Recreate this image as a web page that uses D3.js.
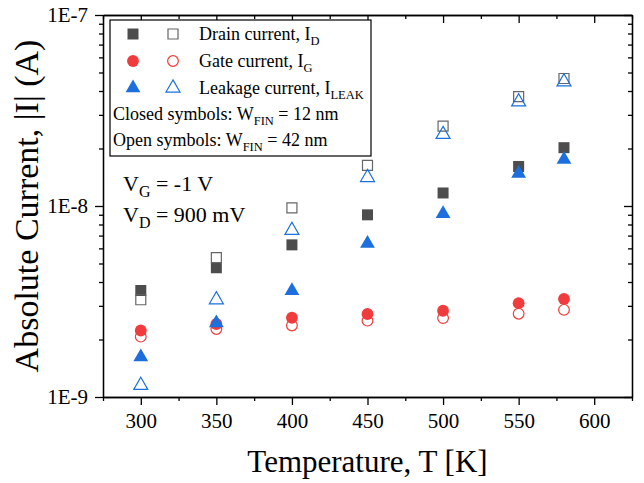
<!doctype html>
<html lang="en">
<head>
    <meta charset="UTF-8">
    <title>Current vs temperature</title>
    <style>
        body { margin: 0; background: #fff; }
        text { font-family: "Liberation Serif", "Times New Roman", serif; fill: #000; }
    </style>
</head>
<body>
    <svg width="644" height="483"></svg>
    <script src="https://cdn.jsdelivr.net/npm/d3@7"></script>
    <script>
        // temperatures (K)
        const temps = [300, 350, 400, 450, 500, 550, 580];
        // closed symbols: W_FIN = 12 nm, open symbols: W_FIN = 42 nm
        const drain12 = [3.61e-9, 4.75e-9, 6.26e-9, 8.99e-9, 1.17e-8, 1.61e-8, 2.02e-8];
        const drain42 = [3.23e-9, 5.37e-9, 9.78e-9, 1.63e-8, 2.62e-8, 3.74e-8, 4.65e-8];
        const gate12 = [2.23e-9, 2.41e-9, 2.60e-9, 2.72e-9, 2.83e-9, 3.10e-9, 3.26e-9];
        const gate42 = [2.07e-9, 2.27e-9, 2.37e-9, 2.51e-9, 2.59e-9, 2.73e-9, 2.86e-9];
        const leak12 = [1.62e-9, 2.44e-9, 3.60e-9, 6.36e-9, 9.10e-9, 1.48e-8, 1.75e-8];
        const leak42 = [1.15e-9, 3.23e-9, 7.46e-9, 1.41e-8, 2.37e-8, 3.51e-8, 4.47e-8];
        const xTicks = [300, 350, 400, 450, 500, 550, 600];
        const yTicks = [1e-9, 1e-8, 1e-7];
        const yTickLabels = ["1E-9", "1E-8", "1E-7"];

        const svg = d3.select("svg"),
            margin = {top: 15, right: 12, bottom: 86, left: 103},
            width = +svg.attr("width") - margin.left - margin.right,
            height = +svg.attr("height") - margin.top - margin.bottom,
            g = svg.append("g").attr("transform", "translate(" + margin.left + "," + margin.top + ")");

        const x = d3.scaleLinear().domain([275, 625]).range([0, width]);
        const y = d3.scaleLog().domain([1e-9, 1e-7]).range([height, 0]);

        const minorX = d3.range(275, 626, 25).filter(v => v % 50 !== 0);
        const minorY = [];
        [1e-9, 1e-8].forEach(function(d) { for (let k = 2; k <= 9; k++) minorY.push(d * k); });

        // axes
        function styleAxis(sel) {
            sel.select(".domain").attr("stroke", "#000").attr("stroke-width", 1.3);
            sel.selectAll(".tick line").attr("stroke", "#000").attr("stroke-width", 1.3);
        }
        const gx = g.append("g").attr("transform", "translate(0," + height + ")")
            .call(d3.axisBottom(x).tickValues(xTicks).tickSize(8).tickSizeOuter(0).tickPadding(8));
        gx.selectAll("text").style("font-size", "21px").style("font-family", "Liberation Serif");
        styleAxis(gx);
        g.append("g").attr("transform", "translate(0," + height + ")")
            .call(d3.axisBottom(x).tickValues(minorX).tickSize(4).tickSizeOuter(0).tickFormat(""))
            .call(styleAxis);

        const gy = g.append("g")
            .call(d3.axisLeft(y).tickValues(yTicks).tickSize(8).tickSizeOuter(0).tickPadding(7)
                .tickFormat((d, i) => yTickLabels[i]));
        gy.selectAll("text").style("font-size", "21px").style("font-family", "Liberation Serif");
        styleAxis(gy);
        g.append("g").call(d3.axisLeft(y).tickValues(minorY).tickSize(4).tickSizeOuter(0).tickFormat(""))
            .call(styleAxis);

        // mirrored axes, inward ticks
        g.append("g").call(d3.axisBottom(x).tickValues(xTicks).tickSize(8).tickSizeOuter(0).tickFormat("")).call(styleAxis);
        g.append("g").call(d3.axisBottom(x).tickValues(minorX).tickSize(4).tickSizeOuter(0).tickFormat("")).call(styleAxis);
        g.append("g").attr("transform", "translate(" + width + ",0)")
            .call(d3.axisLeft(y).tickValues(yTicks).tickSize(8).tickSizeOuter(0).tickFormat("")).call(styleAxis);
        g.append("g").attr("transform", "translate(" + width + ",0)")
            .call(d3.axisLeft(y).tickValues(minorY).tickSize(4).tickSizeOuter(0).tickFormat("")).call(styleAxis);

        const gray = "#4d4d4d", red = "#f03c3c", blue = "#1c6fdc";
        const sq = d3.symbol().type(d3.symbolSquare).size(121);
        const sqO = d3.symbol().type(d3.symbolSquare).size(100);
        const ci = d3.symbol().type(d3.symbolCircle).size(110);
        const ciO = d3.symbol().type(d3.symbolCircle).size(90);
        const tr = d3.symbol().type(d3.symbolTriangle).size(95);
        const trO = d3.symbol().type(d3.symbolTriangle).size(85);

        const series = [
            {vals: gate12, sym: ci, fill: red, stroke: "none"},
            {vals: gate42, sym: ciO, fill: "none", stroke: red},
            {vals: drain12, sym: sq, fill: gray, stroke: "none"},
            {vals: drain42, sym: sqO, fill: "none", stroke: "#666"},
            {vals: leak12, sym: tr, fill: blue, stroke: "none"},
            {vals: leak42, sym: trO, fill: "none", stroke: blue}
        ];
        series.forEach(function(s) {
            g.append("g").selectAll("path")
                .data(s.vals)
                .enter().append("path")
                .attr("d", s.sym)
                .attr("transform", (d, i) => "translate(" + x(temps[i]) + "," + y(d) + ")")
                .attr("fill", s.fill)
                .attr("stroke", s.stroke)
                .attr("stroke-width", 1.2);
        });

        // legend
        const lg = svg.append("g").attr("transform", "translate(110,20)");
        lg.append("rect").attr("width", 261).attr("height", 136)
            .attr("fill", "#fff").attr("stroke", "#000").attr("stroke-width", 1.2);
        const rows = [
            {closed: sq, open: sqO, fill: gray, stroke: "#666", label: "Drain current, I", sub: "D"},
            {closed: ci, open: ciO, fill: red, stroke: red, label: "Gate current, I", sub: "G"},
            {closed: tr, open: trO, fill: blue, stroke: blue, label: "Leakage current, I", sub: "LEAK"}
        ];
        rows.forEach(function(r, i) {
            const cy = 14 + i * 27;
            lg.append("path").attr("d", r.closed).attr("fill", r.fill)
                .attr("transform", "translate(23," + cy + ")");
            lg.append("path").attr("d", r.open).attr("fill", "none").attr("stroke", r.stroke).attr("stroke-width", 1.2)
                .attr("transform", "translate(63," + cy + ")");
            const t = lg.append("text").attr("x", 89).attr("y", cy + 6).style("font-size", "18px").text(r.label);
            t.append("tspan").attr("dy", 5).style("font-size", "12.5px").text(r.sub);
        });
        [["Closed symbols: W", "FIN", " = 12 nm"], ["Open symbols: W", "FIN", " = 42 nm"]].forEach(function(p, i) {
            const t = lg.append("text").attr("x", 3).attr("y", 100 + i * 26).style("font-size", "18px").text(p[0]);
            t.append("tspan").attr("dy", 5).style("font-size", "12.5px").text(p[1]);
            t.append("tspan").attr("dy", -5).text(p[2]);
        });

        // conditions
        [["V", "G", " = -1 V"], ["V", "D", " = 900 mV"]].forEach(function(p, i) {
            const t = svg.append("text").attr("x", 123).attr("y", 191 + i * 31).style("font-size", "22px").text(p[0]);
            t.append("tspan").attr("dy", 6).style("font-size", "16px").text(p[1]);
            t.append("tspan").attr("dy", -6).text(p[2]);
        });

        // axis titles
        svg.append("text").attr("x", margin.left + width / 2).attr("y", 472)
            .attr("text-anchor", "middle").style("font-size", "31px").text("Temperature, T [K]");
        svg.append("text").attr("transform", "translate(38," + (margin.top + height / 2) + ") rotate(-90)")
            .attr("text-anchor", "middle").style("font-size", "34px").text("Absolute Current, |I| (A)");
    </script>
</body>
</html>
